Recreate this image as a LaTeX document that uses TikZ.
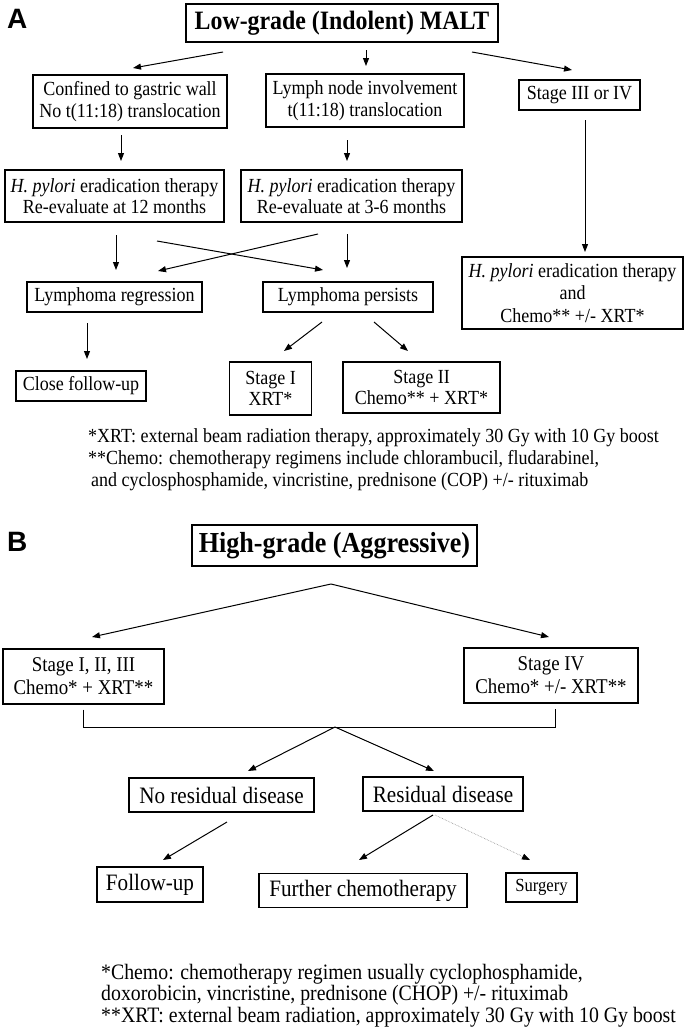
\documentclass[tikz,border=0pt]{standalone}
\usepackage{fontspec}
\setmainfont{Liberation Serif}[FakeStretch=0.9]
\newfontfamily\labfont{Liberation Sans}
\usetikzlibrary{arrows.meta,calc}
\begin{document}
\begin{tikzpicture}[x=1pt,y=-1pt,
  box/.style={draw, line width=1.2pt, align=center, inner sep=0pt},
  sz/.style 2 args={minimum width=#1pt, minimum height=#2pt},
  fA/.style={font=\fontsize{20}{21.5}\selectfont},
  fB/.style={font=\fontsize{21}{23}\selectfont},
  fBig/.style={font=\fontsize{23.5}{25}\selectfont},
  fnote/.style={align=left, anchor=north west, inner sep=0pt},
  panel/.style={font=\labfont\bfseries\fontsize{28}{28}\selectfont, anchor=north west, inner sep=0pt},
  arr/.style={line width=1pt, -{Triangle[length=8pt,width=6pt]}},
  garr/.style={line width=0.6pt, draw=black!45, densely dotted, -{Triangle[length=8pt,width=6pt,color=black]}}]
\useasboundingbox[fill=white] (0,0) rectangle (687,1028);

% ---------------- Panel A ----------------
\node[panel] (labA) at (7,9) {A};
\node[box, sz={312}{38}, font=\bfseries\fontsize{26.5}{28}\selectfont] (title) at (342,23) {Low-grade (Indolent) MALT};
\node[box, fA, sz={194}{53}] (conf) at (130,101.5) {Confined to gastric wall\\No t(11:18) translocation};
\node[box, fA, sz={198}{53}] (lymph) at (365,100.5) {Lymph node involvement\\t(11:18) translocation};
\node[box, fA, sz={121}{30}] (st34) at (579.5,95) {Stage III or IV};
\node[box, fA, sz={219}{52}] (hp1) at (114.5,196) {\textit{H. pylori} eradication therapy\\Re-evaluate at 12 months};
\node[box, fA, sz={221}{52}] (hp2) at (351.5,196) {\textit{H. pylori} eradication therapy\\Re-evaluate at 3-6 months};
\node[box, fA, sz={221}{72}, font=\fontsize{20}{22.5}\selectfont] (hp3) at (572.5,293) {\textit{H. pylori} eradication therapy\\and\\Chemo** +/- XRT*};
\node[box, fA, sz={175}{30}] (lreg) at (114.5,297) {Lymphoma regression};
\node[box, fA, sz={170}{30}] (lper) at (348,297) {Lymphoma persists};
\node[box, fA, sz={130}{30}] (close) at (81,386) {Close follow-up};
\node[box, fA, sz={82}{53}] (st1) at (270.5,388.5) {Stage I\\XRT*};
\node[box, fA, sz={157}{51}] (st2) at (421.5,387.5) {Stage II\\Chemo** + XRT*};
\node[fnote, font=\fontsize{20}{22}\selectfont] (fnA) at (88,428) {*XRT: external beam radiation therapy, approximately 30 Gy with 10 Gy boost\\**Chemo: chemotherapy regimens include chlorambucil, fludarabinel,\\\hspace*{3pt}and cyclosphosphamide, vincristine, prednisone (COP) +/- rituximab};

% connector end points (free ends)
\coordinate (t1s) at (223,52);  \coordinate (t1e) at (133,68);
\coordinate (t2s) at (366,50);  \coordinate (t2e) at (366,66);
\coordinate (t3s) at (472,52);  \coordinate (t3e) at (572,70);
\coordinate (c1s) at (121,135); \coordinate (c1e) at (121,161);
\coordinate (l1s) at (347,140); \coordinate (l1e) at (347,161);
\coordinate (s3s) at (585,120); \coordinate (s3e) at (585,252);
\coordinate (h1s) at (116,235); \coordinate (h1e) at (116,270);
\coordinate (x1s) at (157,241); \coordinate (x1e) at (323,270);
\coordinate (x2s) at (318,234); \coordinate (x2e) at (158,271);
\coordinate (h2s) at (347,234); \coordinate (h2e) at (347,268);
\coordinate (r1s) at (87,323);  \coordinate (r1e) at (87,359);
\coordinate (p1s) at (322,322); \coordinate (p1e) at (284,351);
\coordinate (p2s) at (374,322); \coordinate (p2e) at (408,351);

\draw[arr] (t1s) -- (t1e);
\draw[arr] (t2s) -- (t2e);
\draw[arr] (t3s) -- (t3e);
\draw[arr] (c1s) -- (c1e);
\draw[arr] (l1s) -- (l1e);
\draw[arr] (s3s) -- (s3e);
\draw[arr] (h1s) -- (h1e);
\draw[arr] (x1s) -- (x1e);
\draw[arr] (x2s) -- (x2e);
\draw[arr] (h2s) -- (h2e);
\draw[arr] (r1s) -- (r1e);
\draw[arr] (p1s) -- (p1e);
\draw[arr] (p2s) -- (p2e);

% ---------------- Panel B ----------------
\node[panel] (labB) at (7,532) {B};
\node[box, sz={285}{41}, font=\bfseries\fontsize{29}{31}\selectfont] (htitle) at (334.5,545.5) {High-grade (Aggressive)};
\node[box, fB, sz={161}{55}] (s123) at (83.5,676.5) {Stage I, II, III\\Chemo* + XRT**};
\node[box, fB, sz={174}{55}] (s4) at (551,675.5) {Stage IV\\Chemo* +/- XRT**};
\node[box, fBig, sz={185}{34}] (nores) at (221.5,795) {No residual disease};
\node[box, fBig, sz={160}{34}] (res) at (443,794) {Residual disease};
\node[box, fBig, sz={106}{35}] (follow) at (150,884.5) {Follow-up};
\node[box, fBig, sz={208}{34}] (further) at (363,890.5) {Further chemotherapy};
\node[box, sz={71}{29}, font=\fontsize{18.5}{20}\selectfont] (surg) at (541.5,887.5) {Surgery};
\node[fnote, font=\fontsize{22}{21.5}\selectfont] (fnB) at (101,964) {*Chemo: chemotherapy regimen usually cyclophosphamide,\\doxorobicin, vincristine, prednisone (CHOP) +/- rituximab\\**XRT: external beam radiation, approximately 30 Gy with 10 Gy boost};

\coordinate (apex) at (331,584);
\coordinate (ta) at (92,637);
\coordinate (tb) at (549,637);
\draw[arr] (apex) -- (ta);
\draw[arr] (apex) -- (tb);

\coordinate (bk) at (335,727);
\coordinate (bkl) at ($(s123.south)+(0,5)$);
\coordinate (bkr) at ($(s4.south)+(4,5)$);
\draw[line width=1pt] (bkl) -- (bkl |- bk) -- (bkr |- bk) -- (bkr);
\coordinate (na) at (248,771);
\coordinate (nb) at (434,771);
\draw[arr] (bk) -- (na);
\draw[arr] (bk) -- (nb);

\coordinate (f1s) at (227,822); \coordinate (f1e) at (163,860);
\coordinate (g1s) at (433,815); \coordinate (g1e) at (359,860);
\coordinate (g2s) at (435,815); \coordinate (g2e) at (530,860);
\draw[arr] (f1s) -- (f1e);
\draw[arr] (g1s) -- (g1e);
\draw[garr] (g2s) -- (g2e);
\end{tikzpicture}
\end{document}
